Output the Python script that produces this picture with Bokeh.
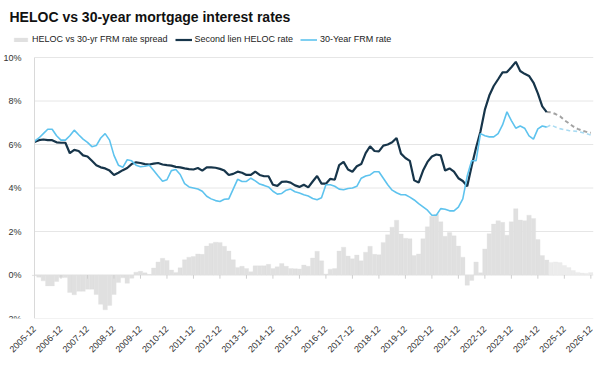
import math
from bokeh.plotting import figure
from bokeh.models import (Range1d, FixedTicker, Legend, LegendItem, PrintfTickFormatter, Label)
from bokeh.embed import file_html
from bokeh.resources import INLINE


def ym(k):
    t = 2005 * 12 + 11 + k
    return f"{t // 12}-{t % 12 + 1:02d}"


# Dates every two months, 2005-12 .. 2026-12
dates = [ym(k) for k in range(0, 253, 2)]
last_actual = "2025-04"

# Second lien HELOC rate (%)
heloc = [
    6.12, 6.20, 6.23, 6.20, 6.20, 6.10, 6.08, 6.08, 5.60, 5.75,
    5.70, 5.50, 5.45, 5.25, 5.05, 4.95, 4.90, 4.80, 4.60, 4.70,
    4.82, 4.92, 5.10, 5.18, 5.15, 5.10, 5.08, 5.12, 5.15, 5.08,
    5.05, 5.03, 4.97, 4.95, 4.90, 4.87, 4.85, 4.92, 4.80, 4.95,
    4.95, 4.93, 4.88, 4.80, 4.60, 4.65, 4.75, 4.70, 4.60, 4.60,
    4.75, 4.60, 4.54, 4.54, 4.15, 4.10, 4.28, 4.30, 4.25, 4.12,
    4.05, 4.15, 4.03, 4.30, 4.55, 4.20, 4.20, 4.42, 4.38, 5.05,
    5.20, 4.85, 4.75, 5.00, 5.10, 5.60, 5.92, 5.70, 5.68, 5.95,
    6.00, 6.10, 6.30, 5.58, 5.38, 5.25, 4.35, 4.25, 4.80, 5.20,
    5.45, 5.54, 5.50, 4.80, 4.90, 4.75, 4.45, 4.32, 4.08, 5.00,
    5.85, 6.60, 7.60, 8.25, 8.69, 9.00, 9.32, 9.33, 9.55, 9.80,
    9.38, 9.25, 9.15, 8.85, 8.35, 7.75, 7.49, 7.48, 7.40, 7.30,
    7.12, 6.98, 6.83, 6.72, 6.64, 6.58, 6.54,
]

# 30-Year FRM rate (%)
frm = [
    6.15, 6.30, 6.50, 6.70, 6.70, 6.40, 6.20, 6.20, 6.40, 6.66,
    6.45, 6.25, 6.10, 5.90, 5.95, 6.30, 6.50, 6.20, 5.50, 5.05,
    4.95, 5.30, 5.25, 5.05, 4.98, 5.00, 5.05, 4.80, 4.55, 4.31,
    4.38, 4.80, 4.85, 4.62, 4.20, 4.05, 4.00, 3.95, 3.85, 3.62,
    3.50, 3.42, 3.38, 3.48, 3.50, 3.95, 4.40, 4.30, 4.30, 4.45,
    4.33, 4.18, 4.12, 4.05, 3.85, 3.72, 3.75, 3.90, 3.95, 3.83,
    3.77, 3.69, 3.63, 3.52, 3.46, 3.55, 4.15, 4.15, 4.08, 3.95,
    3.92, 3.98, 4.00, 4.08, 4.45, 4.55, 4.60, 4.75, 4.75, 4.45,
    4.15, 3.90, 3.78, 3.69, 3.69, 3.58, 3.45, 3.28, 3.13, 2.98,
    2.75, 2.75, 3.05, 3.02, 2.95, 2.95, 3.12, 3.50, 4.55, 5.25,
    5.25, 6.50, 6.40, 6.35, 6.35, 6.50, 6.90, 7.50, 7.10, 6.75,
    6.85, 6.75, 6.40, 6.25, 6.72, 6.85, 6.80, 6.90, 6.80, 6.73,
    6.68, 6.64, 6.62, 6.60, 6.55, 6.50, 6.43,
]

tick_labels = [f"{y}-12" for y in range(2005, 2027)]
y_ticks = [-2, 0, 2, 4, 6, 8, 10]
title_text = "HELOC vs 30-year mortgage interest rates"
series_names = ["HELOC vs 30-yr FRM rate spread", "Second lien HELOC rate", "30-Year FRM rate"]


def month_pos(s):
    y, m = s.split("-")
    return (int(y) - 2005) * 12 + int(m) - 12


x = [month_pos(d) for d in dates]
spread = [h - f for h, f in zip(heloc, frm)]
cut = month_pos(last_actual)
ia = [i for i, v in enumerate(x) if v <= cut]
ifc = [i for i, v in enumerate(x) if v >= cut]
xt = [month_pos(t) for t in tick_labels]

FONT = "Liberation Sans"
C_BAR, C_BAR_F = "#e0e0e0", "#ececec"
C_H, C_H_F = "#17354a", "#a3a3a3"
C_F, C_F_F = "#5ec3ee", "#a9dbf2"

# Layout geometry (pixels): the frame spans the left margin so the header fits inside
W, H = 594, 358
FRAME_L = 1
PLOT_L, PLOT_R = 34, 593          # 2005-12 tick and right edge
PLOT_T, PLOT_B = 57, 318          # 10% and -2% lines
X_END = 253.2
px_per_month = (PLOT_R - PLOT_L) / X_END
px_per_pct = (PLOT_B - PLOT_T) / 12.0
x_start = -(PLOT_L - FRAME_L) / px_per_month
y_end = 10 + PLOT_T / px_per_pct

p = figure(width=W, height=H, output_backend="svg", toolbar_location=None, title=None,
           x_range=Range1d(x_start, X_END), y_range=Range1d(-2, y_end),
           min_border_left=FRAME_L, min_border_right=W - PLOT_R, min_border_top=0,
           min_border_bottom=H - PLOT_B)
p.outline_line_color = None
p.xgrid.grid_line_color = None
p.ygrid.grid_line_color = None

# horizontal grid lines between the first month and the right edge
p.segment(x0=[xt[0]] * len(y_ticks), y0=y_ticks, x1=[X_END] * len(y_ticks), y1=y_ticks,
          line_color="#e6e6e6", line_width=1)

bar_a = p.vbar(x=[x[i] for i in ia], top=[spread[i] for i in ia], bottom=0, width=2,
               fill_color=C_BAR, line_color=C_BAR, line_width=0.3)
p.vbar(x=[x[i] for i in ifc if x[i] > cut], top=[spread[i] for i in ifc if x[i] > cut],
       bottom=0, width=2, fill_color=C_BAR_F, line_color=C_BAR_F, line_width=0.3)

# small tick marks hanging below the 0% line at each year tick
p.segment(x0=xt, y0=[0] * len(xt), x1=xt, y1=[-0.17] * len(xt),
          line_color="#cfcfcf", line_width=1)

p.line([x[i] for i in ifc], [heloc[i] for i in ifc], line_color=C_H_F,
       line_width=2, line_dash="4 3")
p.line([x[i] for i in ifc], [frm[i] for i in ifc], line_color=C_F_F,
       line_width=1.6, line_dash="4 3")
line_h = p.line([x[i] for i in ia], [heloc[i] for i in ia], line_color=C_H, line_width=2.2)
line_f = p.line([x[i] for i in ia], [frm[i] for i in ia], line_color=C_F, line_width=1.6)

# y axis drawn at the 2005-12 position
p.yaxis.fixed_location = xt[0]
p.yaxis.bounds = (-2, 10)
p.yaxis.ticker = FixedTicker(ticks=y_ticks)
p.yaxis.formatter = PrintfTickFormatter(format="%d%%")
p.yaxis.axis_line_color = "#d9d9d9"
p.yaxis.major_tick_line_color = None
p.yaxis.minor_tick_line_color = None
p.yaxis.major_label_standoff = 7
p.yaxis.major_label_text_font = FONT
p.yaxis.major_label_text_font_size = "9px"
p.yaxis.major_label_text_color = "#333333"

p.xaxis.ticker = FixedTicker(ticks=xt)
p.xaxis.major_label_overrides = {v: t for v, t in zip(xt, tick_labels)}
p.xaxis.major_label_orientation = math.pi / 4
p.xaxis.axis_line_color = None
p.xaxis.major_tick_line_color = None
p.xaxis.minor_tick_line_color = None
p.xaxis.major_label_standoff = 3
p.xaxis.major_label_text_font = FONT
p.xaxis.major_label_text_font_size = "9px"
p.xaxis.major_label_text_color = "#333333"

# title & legend inside the (extended) frame
frame_h = PLOT_B
p.add_layout(Label(x=8, y=frame_h - 16, x_units="screen", y_units="screen",
                   text=title_text, text_font=FONT, text_font_size="14px",
                   text_font_style="bold", text_color="#111111",
                   text_baseline="middle", text_align="left"))
legend = Legend(items=[
    LegendItem(label=series_names[0], renderers=[bar_a]),
    LegendItem(label=series_names[1], renderers=[line_h]),
    LegendItem(label=series_names[2], renderers=[line_f]),
], orientation="horizontal", location=(11, frame_h - 44), border_line_color=None,
    background_fill_alpha=0, margin=0, padding=2, spacing=7,
    glyph_width=17, glyph_height=5, label_height=10, label_standoff=3,
    label_text_font=FONT, label_text_font_size="9px", label_text_color="#222222")
p.add_layout(legend, "center")

open("out.html", "w").write(file_html(p, INLINE))
